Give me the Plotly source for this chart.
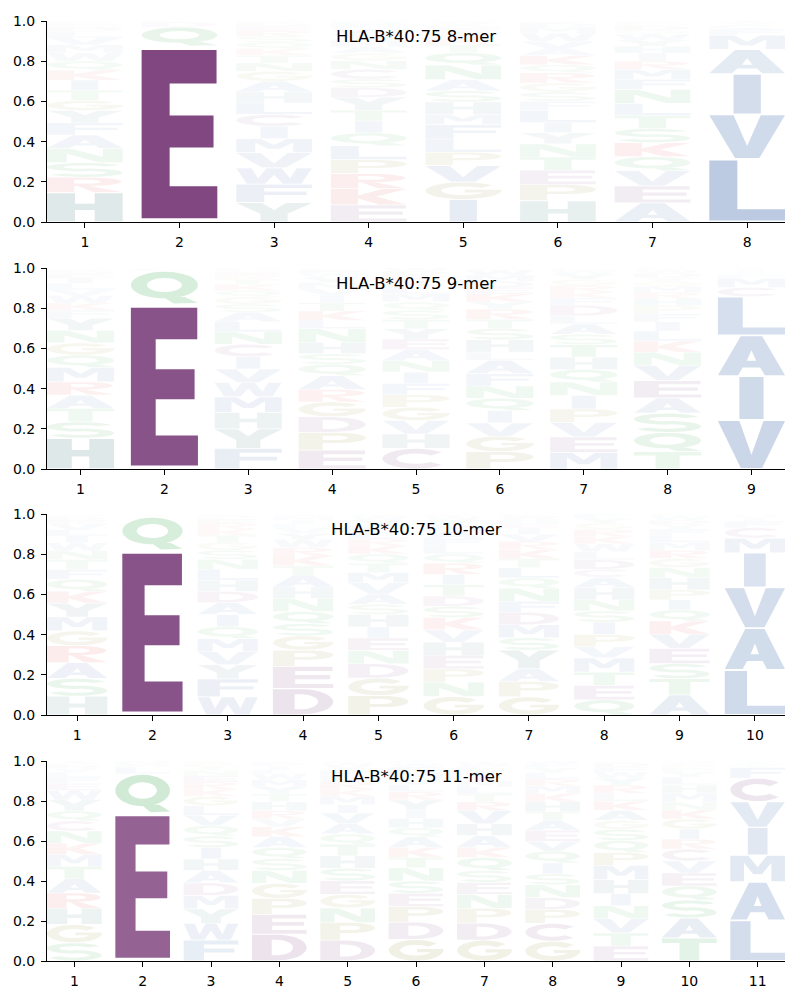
import numpy as np
import plotly.graph_objects as go

# ---------------- data (letters listed bottom -> top, heights = frequencies) ----------------
TITLES = ["HLA-B*40:75 8-mer", "HLA-B*40:75 9-mer", "HLA-B*40:75 10-mer", "HLA-B*40:75 11-mer"]

MER8_LETTERS = ["HRSNAFYGTIKQWMVLDEPC", "EQDK", "YFWVMICLHAGNTKQSREDP", "EKRPLQITYDSCNGAMVWFH",
                "IGVPLFMHSANQTKREDYW", "HPETNYILFSGRQKAVWMDC", "AEVQKSTLNFMRIHYWGDPC", "LVIAMFCYT"]
MER8_HEIGHTS = [
    [.145, .075, .072, .07, .066, .06, .06, .05, .05, .05, .048, .045, .04, .04, .035, .03, .02, .015, .01, .007],
    [.875, .095, .025, .005],
    [.09, .085, .075, .07, .065, .057, .055, .053, .05, .05, .045, .04, .035, .03, .03, .028, .025, .02, .015, .01],
    [.08, .075, .07, .065, .065, .06, .055, .05, .06, .045, .04, .045, .04, .035, .03, .03, .03, .025, .02, .015],
    [.11, .085, .08, .065, .065, .07, .05, .06, .055, .055, .07, .06, .04, .03, .025, .02, .015, .015, .01],
    [.105, .08, .07, .065, .065, .055, .05, .06, .045, .045, .045, .05, .04, .045, .035, .035, .04, .03, .02, .01],
    [.095, .085, .075, .07, .07, .07, .065, .06, .07, .05, .05, .04, .04, .035, .03, .03, .02, .02, .015, .01],
    [.31, .22, .20, .12, .07, .03, .02, .01, .01],
]

MER9_LETTERS = ["HSTARMQGNYFKWVLIEDPC", "EQDN", "FYHMWVICNLASGQKTREDP", "EPDGRAQSHNLKTIVMYWFC",
                "CHVGPFINAEYTSQMLKRDW", "PGVIQNFALHSTRYKEDMWC", "MEVPINQHTSALDFKRGYWC",
                "TQSAEVNKLIFPHRMGYDWC", "VIALCMFYTS"]
MER9_HEIGHTS = [
    [.15, .08, .065, .065, .065, .07, .06, .06, .06, .06, .04, .035, .035, .03, .03, .025, .02, .015, .01, .005],
    [.82, .165, .01, .005],
    [.1, .095, .08, .075, .07, .065, .06, .06, .06, .05, .045, .04, .035, .03, .03, .025, .02, .015, .01, .01],
    [.09, .085, .075, .07, .06, .065, .055, .05, .055, .065, .04, .045, .04, .035, .03, .03, .025, .02, .015, .01],
    [.1, .07, .065, .065, .06, .055, .055, .055, .055, .05, .05, .045, .045, .04, .04, .035, .03, .025, .02, .015],
    [.085, .075, .065, .06, .06, .06, .06, .065, .04, .06, .055, .045, .05, .035, .04, .03, .03, .03, .025, .01],
    [.08, .075, .07, .065, .065, .065, .06, .06, .06, .05, .05, .04, .05, .035, .03, .03, .03, .025, .02, .01],
    [.085, .095, .095, .075, .085, .075, .065, .055, .05, .045, .04, .04, .035, .03, .03, .025, .02, .02, .015, .01],
    [.24, .215, .2, .19, .045, .045, .02, .01, .01, .01],
]

MER10_LETTERS = ["HSARGMYKQFTNWILVEDPC", "EQTN", "WFYVMQIADHLNSGTKREPC", "DEPGSQNHATKRWYVLIMFC",
                 "PGDNEIHSAVMTQKRLFYWC", "GNPEHVKSDTIRQLFAMYWC", "GPAYSMDFNQLTKRVIEHWC",
                 "QETMVPISNHACDLWKRGYF", "ATSEVKQIPHNGRMLFYDWC", "LAVIMCFTYS"]
MER10_HEIGHTS = [
    [.095, .09, .08, .085, .075, .07, .07, .06, .06, .05, .05, .045, .04, .035, .03, .03, .02, .015, .01, .005],
    [.82, .165, .008, .007],
    [.09, .09, .07, .065, .065, .06, .06, .06, .055, .055, .055, .05, .045, .04, .035, .03, .03, .02, .015, .01],
    [.13, .11, .08, .07, .06, .06, .065, .055, .06, .045, .05, .04, .04, .03, .025, .02, .02, .015, .01, .005],
    [.095, .085, .07, .065, .06, .055, .06, .05, .05, .055, .05, .045, .045, .04, .035, .035, .03, .025, .02, .01],
    [.09, .07, .065, .065, .065, .06, .06, .055, .05, .055, .05, .055, .045, .04, .035, .035, .03, .025, .02, .01],
    [.09, .075, .065, .09, .06, .065, .06, .055, .065, .05, .05, .045, .045, .04, .035, .03, .025, .02, .015, .01],
    [.075, .07, .065, .07, .055, .06, .06, .055, .055, .06, .05, .04, .045, .04, .04, .035, .035, .03, .025, .02],
    [.1, .08, .075, .075, .07, .065, .055, .05, .05, .06, .05, .045, .04, .04, .035, .03, .025, .02, .02, .01],
    [.215, .2, .195, .165, .07, .05, .03, .015, .01, .01],
]

MER11_LETTERS = ["SGHRATMKNCQYWEFLVDPI", "EQLDN", "FWYMDAHISQVLGKRENTPC", "DEPGNSQAKVRHTYMWLIFC",
                 "DPNGESHTQAVIMKRLFYWC", "GDPESNTKAQHIYRLVMFWC", "GDPNESQKAHVRTLMIYFWC",
                 "GCPDNSIQVEATHKMRLYFW", "ETVNIHMPQSGAKLRYWFDC", "TASQEVCRIGKNMHLYFPDW", "LAMIVCFYTS"]
MER11_HEIGHTS = [
    [.09, .09, .08, .075, .07, .06, .06, .055, .06, .05, .05, .055, .045, .035, .03, .025, .02, .015, .01, .01],
    [.74, .195, .035, .015, .015],
    [.1, .08, .07, .065, .06, .06, .055, .055, .055, .05, .05, .045, .045, .035, .035, .03, .025, .02, .015, .01],
    [.135, .1, .08, .075, .065, .06, .055, .055, .05, .04, .04, .045, .04, .035, .035, .03, .02, .02, .015, .01],
    [.1, .085, .07, .065, .065, .06, .06, .055, .05, .05, .05, .04, .04, .035, .035, .03, .025, .02, .015, .01],
    [.105, .085, .075, .065, .06, .065, .05, .05, .05, .045, .045, .04, .05, .04, .035, .03, .03, .025, .02, .01],
    [.105, .085, .075, .07, .06, .06, .065, .05, .06, .06, .065, .045, .04, .035, .03, .03, .025, .02, .015, .01],
    [.1, .09, .07, .06, .065, .055, .055, .06, .05, .055, .05, .045, .05, .04, .04, .035, .03, .025, .02, .015],
    [.075, .065, .07, .065, .06, .07, .07, .065, .06, .055, .045, .05, .045, .04, .04, .035, .03, .025, .02, .01],
    [.115, .1, .09, .07, .065, .06, .06, .05, .05, .05, .045, .04, .045, .04, .04, .025, .02, .015, .01, .01],
    [.19, .18, .125, .13, .12, .11, .05, .015, .01, .005],
]

PANELS = [(MER8_LETTERS, MER8_HEIGHTS), (MER9_LETTERS, MER9_HEIGHTS),
          (MER10_LETTERS, MER10_HEIGHTS), (MER11_LETTERS, MER11_HEIGHTS)]

# ---------------- colour scheme ----------------
GROUP_COLORS = {
    "AVLIMFW": (40, 90, 160),
    "QNST": (20, 150, 40),
    "GP": (120, 120, 20),
    "HY": (40, 105, 105),
    "KR": (220, 30, 30),
    "DEC": (110, 45, 110),
}
COLOR = {aa: c for grp, c in GROUP_COLORS.items() for aa in grp}


# ---------------- glyph outlines in a unit box ----------------
def _arc(cx, cy, rx, ry, a0, a1, n=30):
    t = np.radians(np.linspace(a0, a1, n))
    return list(zip(cx + rx * np.cos(t), cy + ry * np.sin(t)))


def _ring(cx, cy, rxo, ryo, rxi, ryi, a0, a1):
    return _arc(cx, cy, rxo, ryo, a0, a1) + _arc(cx, cy, rxi, ryi, a1, a0)


def _ell(cx, cy, rx, ry):
    return _arc(cx, cy, rx, ry, 0, 360, 50)[:-1]


def _rect(x0, y0, x1, y1):
    return [(x0, y0), (x1, y0), (x1, y1), (x0, y1)]


GLYPHS = {
    "A": [([(0, 0), (.3, 0), (.37, .2), (.63, .2), (.7, 0), (1, 0), (.66, 1), (.34, 1)], False),
          ([(.43, .37), (.57, .37), (.5, .64)], True)],
    "C": [(_ring(.5, .5, .5, .5, .29, .26, 40, 320), False)],
    "D": [([(0, 0), (0, 1), (.45, 1)] + _arc(.45, .5, .55, .5, 90, -90) + [(.45, 0)], False),
          ([(.36, .2), (.36, .8), (.45, .8)] + _arc(.45, .5, .3, .3, 90, -90) + [(.45, .2)], True)],
    "E": [([(0, 0), (1, 0), (1, .19), (.37, .19), (.37, .42), (.95, .42), (.95, .61), (.37, .61),
            (.37, .8), (.99, .8), (.99, 1), (0, 1)], False)],
    "F": [([(0, 0), (0, 1), (1, 1), (1, .8), (.37, .8), (.37, .6), (.93, .6), (.93, .41),
            (.37, .41), (.37, 0)], False)],
    "G": [(_ring(.5, .5, .5, .5, .29, .26, 40, 360), False), (_rect(.52, .4, 1.0, .56), False)],
    "H": [([(0, 0), (0, 1), (.37, 1), (.37, .62), (.63, .62), (.63, 1), (1, 1), (1, 0), (.63, 0),
            (.63, .4), (.37, .4), (.37, 0)], False)],
    "I": [(_rect(.32, 0, .68, 1), False)],
    "K": [([(0, 0), (0, 1), (.36, 1), (.36, .58), (.68, 1), (1, 1), (.6, .52), (1, 0), (.64, 0),
            (.36, .38), (.36, 0)], False)],
    "L": [([(0, 0), (1, 0), (1, .19), (.37, .19), (.37, 1), (0, 1)], False)],
    "M": [([(0, 0), (0, 1), (.33, 1), (.5, .55), (.67, 1), (1, 1), (1, 0), (.75, 0), (.75, .72),
            (.58, .27), (.42, .27), (.25, .72), (.25, 0)], False)],
    "N": [([(0, 0), (0, 1), (.32, 1), (.74, .38), (.74, 1), (1, 1), (1, 0), (.68, 0), (.26, .62),
            (.26, 0)], False)],
    "P": [([(0, 0), (0, 1), (.58, 1)] + _arc(.58, .7, .42, .3, 90, -90) + [(.36, .4), (.36, 0)], False),
          ([(.36, .57), (.36, .83), (.56, .83)] + _arc(.56, .7, .17, .13, 90, -90) + [(.56, .57)], True)],
    "Q": [(_ell(.5, .58, .5, .42), False), (_ell(.5, .58, .26, .22), True),
          ([(.48, .2), (.8, .2), (1.0, .02), (.64, 0)], False)],
    "R": [([(0, 0), (0, 1), (.56, 1)] + _arc(.56, .72, .42, .28, 90, -90) + [(1, 0), (.62, 0), (.4, .42),
                                                                              (.36, .42), (.36, 0)], False),
          ([(.36, .59), (.36, .85), (.54, .85)] + _arc(.54, .72, .17, .13, 90, -90) + [(.54, .59)], True)],
    "S": [(_ring(.5, .7, .5, .3, .28, .12, 25, 270), False),
          (_ring(.5, .3, .5, .3, .28, .12, 90, -155), False)],
    "T": [([(0, 1), (1, 1), (1, .8), (.68, .8), (.68, 0), (.32, 0), (.32, .8), (0, .8)], False)],
    "V": [([(0, 1), (.32, 1), (.5, .28), (.68, 1), (1, 1), (.66, 0), (.34, 0)], False)],
    "W": [([(0, 1), (.2, 1), (.29, .35), (.4, 1), (.6, 1), (.71, .35), (.8, 1), (1, 1), (.86, 0),
            (.62, 0), (.5, .58), (.38, 0), (.14, 0)], False)],
    "Y": [([(0, 1), (.34, 1), (.5, .62), (.66, 1), (1, 1), (.68, .42), (.68, 0), (.32, 0),
            (.32, .42)], False)],
}


def _oriented(pts, hole):
    a = 0.0
    for i in range(len(pts)):
        x0, y0 = pts[i]
        x1, y1 = pts[(i + 1) % len(pts)]
        a += x0 * y1 - x1 * y0
    if (a > 0) == hole:
        return pts[::-1]
    return pts


def glyph_path(letter, xc, y0, h, width=0.8, pad=0.022):
    yb = y0 + pad * h
    ht = h * (1 - 2 * pad)
    xl = xc - width / 2
    out = []
    for pts, hole in GLYPHS[letter]:
        pts = _oriented(pts, hole)
        out.append("M" + "L".join(f"{xl + width * u:.4f},{yb + ht * v:.4f}" for u, v in pts) + "Z")
    return "".join(out)


# ---------------- figure ----------------
# page body has an 8px margin, so the figure is placed at (8, 8) in the window
OFF = 8
FIG_W, FIG_H = 800 - OFF, 1000 - OFF
PLOT_L, PLOT_R, PLOT_TOP, PLOT_BOTTOM = 47, 785, 21, 961      # window pixels
H = PLOT_BOTTOM - PLOT_TOP
PANEL_PX = [(21, 222), (268, 469), (514, 715), (761, 961)]

fig = go.Figure()
shapes = []
annotations = []
axis_font = dict(family="DejaVu Sans", size=14, color="black")
for i, ((letters, heights), title) in enumerate(zip(PANELS, TITLES)):
    k = "" if i == 0 else str(i + 1)
    xr, yr = "x" + k, "y" + k
    n = len(letters)
    top, bot = PANEL_PX[i]
    ydom = [(PLOT_BOTTOM - bot) / H, (PLOT_BOTTOM - top) / H]
    fig.update_layout(**{
        "xaxis" + k: dict(domain=[0, 1], anchor=yr, range=[0.6, n + 0.4], tickmode="array",
                          tickvals=list(range(1, n + 1)), ticktext=[str(v) for v in range(1, n + 1)],
                          showline=True, linecolor="black", linewidth=1, ticks="outside", ticklen=5,
                          tickcolor="black", showgrid=False, zeroline=False, tickfont=axis_font,
                          ticklabelstandoff=2, automargin=False),
        "yaxis" + k: dict(domain=ydom, anchor=xr, range=[0, 1], tickmode="array",
                          tickvals=[0, .2, .4, .6, .8, 1.0],
                          ticktext=["0.0", "0.2", "0.4", "0.6", "0.8", "1.0"],
                          showline=True, linecolor="black", linewidth=1, ticks="outside", ticklen=5,
                          tickcolor="black", showgrid=False, zeroline=False, tickfont=axis_font,
                          ticklabelstandoff=3, automargin=False),
    })
    fig.add_trace(go.Scatter(x=[1], y=[0], xaxis=xr, yaxis=yr, mode="markers",
                             marker=dict(opacity=0), hoverinfo="skip", showlegend=False))
    for p, (lets, hs) in enumerate(zip(letters, heights)):
        if len(lets) != len(hs):
            raise ValueError(f"length mismatch panel {i} pos {p + 1}")
        total = sum(hs)
        y = 0.0
        for aa, hh in zip(lets, hs):
            f = hh / total
            r, g, b = COLOR[aa]
            shapes.append(dict(type="path", xref=xr, yref=yr,
                               path=glyph_path(aa, p + 1, y, f),
                               fillcolor=f"rgba({r},{g},{b},{min(1.0, f):.3f})",
                               line=dict(width=0, color="rgba(0,0,0,0)"),
                               fillrule="nonzero", layer="above"))
            y += f
    annotations.append(dict(text=title, xref=xr + " domain", yref=yr + " domain", x=0.5, y=0.925,
                            xanchor="center", yanchor="middle", showarrow=False,
                            font=dict(family="DejaVu Sans", size=16.5, color="black")))

fig.update_layout(width=FIG_W, height=FIG_H,
                  margin=dict(l=PLOT_L - OFF, r=FIG_W - (PLOT_R - OFF), t=PLOT_TOP - OFF,
                              b=FIG_H - (PLOT_BOTTOM - OFF)),
                  plot_bgcolor="white", paper_bgcolor="white", shapes=shapes,
                  annotations=annotations, showlegend=False)
fig.write_html("out.html")
